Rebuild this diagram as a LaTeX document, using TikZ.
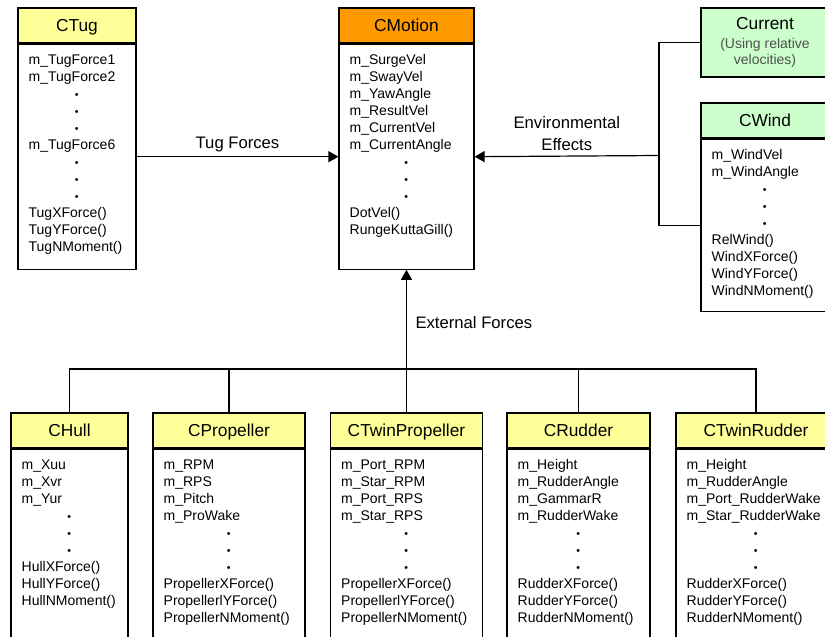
\documentclass[tikz,border=0pt]{standalone}
\usepackage{fontspec}
\setmainfont{Liberation Sans}
\usetikzlibrary{positioning,arrows.meta}

\definecolor{headyellow}{RGB}{255,255,153}
\definecolor{headorange}{RGB}{255,153,0}
\definecolor{headgreen}{RGB}{204,255,204}
\definecolor{notegray}{RGB}{80,80,80}

\newcommand{\memberdot}{\makebox[\hsize]{\fontsize{8}{8}\selectfont\textbullet}}

\tikzset{
	classhead/.style={draw, line width=0.9pt, minimum height=26.25pt, inner sep=0pt,
		text height=10.5pt, text depth=1.5pt, font=\fontsize{13}{15}\selectfont},
	classbody/.style={draw, line width=0.9pt, fill=white, inner sep=0pt},
	members/.style={anchor=north west, inner xsep=8.25pt, inner ysep=8pt, align=left,
		font=\fontsize{10.5}{12.75}\selectfont},
	flowlabel/.style={font=\fontsize{12.5}{17}\selectfont},
	flow/.style={line width=0.9pt, -{Triangle[length=7.5pt, width=8.25pt]}},
	wire/.style={line width=0.9pt}
}

\begin{document}
\begin{tikzpicture}[x=0.75pt, y=-0.75pt]
\useasboundingbox (0, 0) rectangle (825, 636);
\clip (0, 0) rectangle (825, 636);

%top row
\node[classhead, fill=headyellow, minimum width=88.5pt] (tug) at (77, 25.5) {CTug};
\node[classbody, minimum width=88.5pt, minimum height=168.75pt, below=0pt of tug] (tugbody) {};
\node[members, text width=72pt] (tugtext) at (tugbody.north west) {m\_TugForce1\\m\_TugForce2\\
	\memberdot\\\memberdot\\\memberdot\\m\_TugForce6\\\memberdot\\\memberdot\\\memberdot\\
	TugXForce()\\TugYForce()\\TugNMoment()};

\node[classhead, fill=headorange, minimum width=101.25pt] (motion) at (406.5, 25.5) {CMotion};
\node[classbody, minimum width=101.25pt, minimum height=168.75pt, below=0pt of motion] (motionbody) {};
\node[members, text width=84.75pt] (motiontext) at (motionbody.north west) {m\_SurgeVel\\m\_SwayVel\\
	m\_YawAngle\\m\_ResultVel\\m\_CurrentVel\\m\_CurrentAngle\\\memberdot\\\memberdot\\\memberdot\\
	DotVel()\\RungeKuttaGill()};

\node[draw, line width=0.9pt, fill=headgreen, minimum width=96pt, minimum height=51.75pt,
	align=center, font=\fontsize{10.5}{12}\selectfont, text=notegray] (current) at (765, 42.5)
	{{\fontsize{13}{15}\selectfont\color{black}Current}\\[2pt](Using relative\\velocities)};

\node[classhead, fill=headgreen, minimum width=96pt] (wind) at (765, 120.5) {CWind};
\node[classbody, minimum width=96pt, minimum height=129pt, below=0pt of wind] (windbody) {};
\node[members, text width=79.5pt] (windtext) at (windbody.north west) {m\_WindVel\\m\_WindAngle\\
	\memberdot\\\memberdot\\\memberdot\\RelWind()\\WindXForce()\\WindYForce()\\WindNMoment()};

%bottom row
\node[classhead, fill=headyellow, minimum width=87.75pt] (hull) at (69.5, 430.5) {CHull};
\node[classbody, minimum width=87.75pt, minimum height=165pt, below=0pt of hull] (hullbody) {};
\node[members, text width=71.25pt] (hulltext) at (hullbody.north west) {m\_Xuu\\m\_Xvr\\m\_Yur\\
	\memberdot\\\memberdot\\\memberdot\\HullXForce()\\HullYForce()\\HullNMoment()};

\node[classhead, fill=headyellow, minimum width=114pt] (propeller) at (229, 430.5) {CPropeller};
\node[classbody, minimum width=114pt, minimum height=165pt, below=0pt of propeller] (propellerbody) {};
\node[members, text width=97.5pt] (propellertext) at (propellerbody.north west) {m\_RPM\\m\_RPS\\
	m\_Pitch\\m\_ProWake\\\memberdot\\\memberdot\\\memberdot\\
	PropellerXForce()\\PropellerlYForce()\\PropellerNMoment()};

\node[classhead, fill=headyellow, minimum width=114pt] (twinprop) at (406.5, 430.5) {CTwinPropeller};
\node[classbody, minimum width=114pt, minimum height=165pt, below=0pt of twinprop] (twinpropbody) {};
\node[members, text width=97.5pt] (twinproptext) at (twinpropbody.north west) {m\_Port\_RPM\\
	m\_Star\_RPM\\m\_Port\_RPS\\m\_Star\_RPS\\\memberdot\\\memberdot\\\memberdot\\
	PropellerXForce()\\PropellerlYForce()\\PropellerNMoment()};

\node[classhead, fill=headyellow, minimum width=107.25pt] (rudder) at (578.5, 430.5) {CRudder};
\node[classbody, minimum width=107.25pt, minimum height=165pt, below=0pt of rudder] (rudderbody) {};
\node[members, text width=90.75pt] (ruddertext) at (rudderbody.north west) {m\_Height\\
	m\_RudderAngle\\m\_GammarR\\m\_RudderWake\\\memberdot\\\memberdot\\\memberdot\\
	RudderXForce()\\RudderYForce()\\RudderNMoment()};

\node[classhead, fill=headyellow, minimum width=120pt] (twinrudder) at (756, 430.5) {CTwinRudder};
\node[classbody, minimum width=120pt, minimum height=165pt, below=0pt of twinrudder] (twinrudderbody) {};
\node[members, text width=103.5pt] (twinruddertext) at (twinrudderbody.north west) {m\_Height\\
	m\_RudderAngle\\m\_Port\_RudderWake\\m\_Star\_RudderWake\\\memberdot\\\memberdot\\\memberdot\\
	RudderXForce()\\RudderYForce()\\RudderNMoment()};

%connections
\draw[flow] (tugbody.east) -- node[flowlabel, above] (tuglabel) {Tug Forces} (motionbody.west);

\coordinate (envjoin) at (659, 155.5);
\draw[wire] (current.west) -| (envjoin) |- (windbody.west);
\draw[flow] (envjoin) -- node[flowlabel, above, align=center] (envlabel) {Environmental\\Effects} (motionbody.east);

\coordinate (bus) at (406.5, 369);
\foreach \cls in {hull, propeller, twinprop, rudder, twinrudder}
	\draw[wire] (\cls.north) |- (bus);
\draw[flow] (bus) -- node[flowlabel, right, pos=0.47, xshift=3pt] (extlabel) {External Forces} (motionbody.south);

\end{tikzpicture}
\end{document}
